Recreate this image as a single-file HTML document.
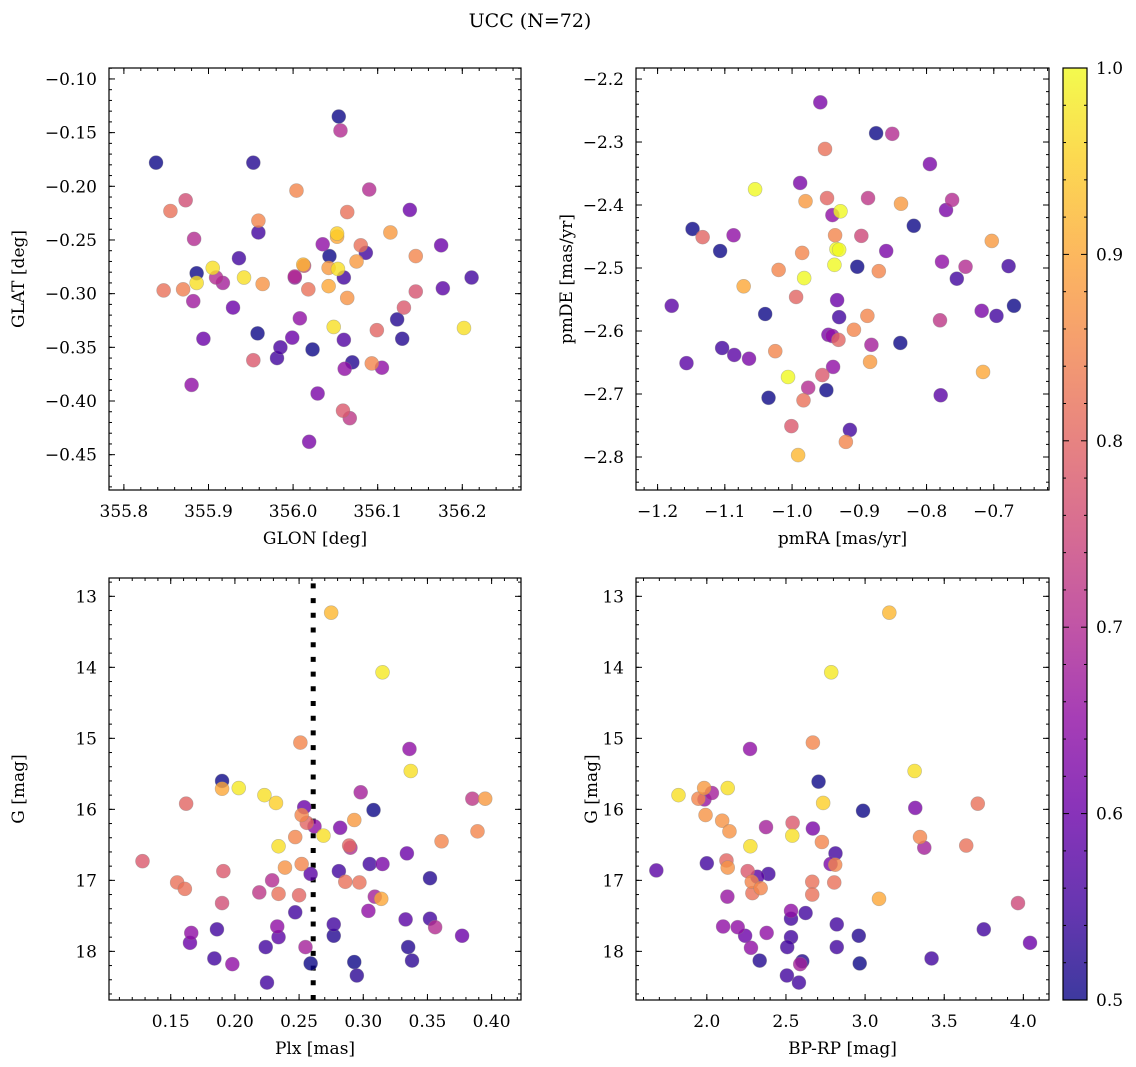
<!DOCTYPE html>
<html><head><meta charset="utf-8"><title>UCC (N=72)</title>
<style>
html,body{margin:0;padding:0;background:#fff;}
svg{display:block;font-family:"DejaVu Serif","Liberation Serif",serif;}
</style></head>
<body>
<svg id="fig" width="1136" height="1067" viewBox="0 0 1136 1067" xmlns="http://www.w3.org/2000/svg">
<defs>
<linearGradient id="plasma" x1="0" y1="1" x2="0" y2="0">
<stop offset="0" stop-color="#0d0887"/><stop offset="0.1" stop-color="#41049d"/><stop offset="0.2" stop-color="#6a00a8"/><stop offset="0.3" stop-color="#8f0da4"/><stop offset="0.4" stop-color="#b12a90"/><stop offset="0.5" stop-color="#cc4778"/><stop offset="0.6" stop-color="#e16462"/><stop offset="0.7" stop-color="#f2844b"/><stop offset="0.8" stop-color="#fca636"/><stop offset="0.9" stop-color="#fcce25"/><stop offset="1" stop-color="#f0f921"/>
</linearGradient>
</defs>
<text x="530" y="27" font-size="19" text-anchor="middle">UCC (N=72)</text>
</svg>
<script>
// ---------- data ----------
const p1Glon = [356.054,356.056,355.838,355.953,356.004,356.090,355.873,355.855,356.064,356.138,355.959,355.959,355.883,356.052,356.052,356.035,356.080,356.086,356.115,356.175,356.043,355.936,356.145,356.075,356.012,356.013,355.905,355.886,356.042,356.053,356.002,356.002,356.060,356.211,355.942,355.909,355.917,355.886,355.964,355.847,355.870,356.018,356.042,356.145,356.177,356.064,355.882,355.929,356.131,356.123,356.008,356.048,356.202,356.099,355.958,355.894,355.999,356.060,356.129,355.985,356.023,355.981,355.953,356.070,356.061,356.093,356.105,355.880,356.029,356.059,356.067,356.019];
const p1Glat = [-0.135,-0.148,-0.178,-0.178,-0.204,-0.203,-0.213,-0.223,-0.224,-0.222,-0.232,-0.243,-0.249,-0.244,-0.247,-0.254,-0.255,-0.262,-0.243,-0.255,-0.265,-0.267,-0.265,-0.270,-0.273,-0.274,-0.276,-0.281,-0.276,-0.277,-0.284,-0.285,-0.285,-0.285,-0.285,-0.285,-0.290,-0.290,-0.291,-0.297,-0.296,-0.296,-0.293,-0.298,-0.295,-0.304,-0.307,-0.313,-0.313,-0.324,-0.323,-0.331,-0.332,-0.334,-0.337,-0.342,-0.341,-0.343,-0.342,-0.350,-0.352,-0.360,-0.362,-0.364,-0.370,-0.365,-0.369,-0.385,-0.393,-0.409,-0.416,-0.438];
const p1Prob = [0.5,0.7,0.5,0.52,0.85,0.7,0.76,0.82,0.82,0.6,0.85,0.55,0.7,0.95,0.9,0.65,0.82,0.55,0.88,0.6,0.5,0.55,0.85,0.88,0.92,0.75,0.97,0.5,0.88,0.97,0.7,0.65,0.55,0.55,0.97,0.7,0.68,0.97,0.87,0.82,0.84,0.82,0.9,0.77,0.58,0.87,0.67,0.6,0.78,0.52,0.65,0.97,0.97,0.8,0.5,0.6,0.6,0.57,0.52,0.56,0.5,0.55,0.78,0.52,0.65,0.85,0.65,0.65,0.62,0.78,0.72,0.62];

const p2PmRA = [-0.958,-0.875,-0.851,-0.951,-0.795,-0.988,-1.055,-0.980,-0.948,-0.887,-0.838,-0.762,-0.771,-0.940,-0.928,-1.148,-1.133,-1.087,-1.107,-0.936,-0.897,-0.819,-0.703,-0.934,-0.930,-0.985,-0.860,-0.777,-0.742,-0.678,-0.903,-0.871,-1.020,-0.937,-0.982,-0.755,-1.072,-0.994,-0.933,-1.179,-1.040,-0.930,-0.888,-0.718,-0.696,-0.670,-0.780,-0.946,-0.940,-0.931,-0.908,-0.882,-0.839,-1.104,-1.086,-1.064,-1.025,-1.157,-0.884,-0.939,-0.955,-1.006,-0.716,-0.976,-0.949,-1.035,-0.983,-0.779,-1.001,-0.914,-0.920,-0.991];
const p2PmDE = [-2.237,-2.286,-2.287,-2.311,-2.335,-2.365,-2.375,-2.394,-2.389,-2.389,-2.398,-2.392,-2.408,-2.416,-2.410,-2.438,-2.451,-2.448,-2.473,-2.448,-2.449,-2.433,-2.457,-2.470,-2.471,-2.476,-2.473,-2.490,-2.498,-2.497,-2.498,-2.505,-2.503,-2.495,-2.516,-2.517,-2.529,-2.546,-2.551,-2.560,-2.573,-2.578,-2.576,-2.568,-2.576,-2.560,-2.583,-2.606,-2.608,-2.614,-2.598,-2.622,-2.619,-2.627,-2.638,-2.644,-2.632,-2.651,-2.649,-2.657,-2.670,-2.673,-2.665,-2.690,-2.694,-2.706,-2.710,-2.702,-2.751,-2.757,-2.776,-2.797];
const p2Prob = [0.62,0.5,0.7,0.82,0.62,0.62,1.0,0.88,0.8,0.72,0.88,0.7,0.62,0.65,1.0,0.5,0.8,0.65,0.5,0.85,0.75,0.5,0.88,1.0,1.0,0.85,0.62,0.65,0.7,0.55,0.5,0.85,0.85,1.0,1.0,0.55,0.9,0.8,0.6,0.58,0.5,0.55,0.85,0.62,0.55,0.5,0.72,0.62,0.65,0.8,0.85,0.68,0.5,0.55,0.58,0.62,0.85,0.58,0.88,0.65,0.78,1.0,0.9,0.7,0.5,0.5,0.82,0.58,0.78,0.55,0.85,0.92];

const p3Plx = [0.275,0.315,0.251,0.336,0.337,0.190,0.190,0.203,0.223,0.232,0.298,0.162,0.385,0.395,0.254,0.308,0.252,0.256,0.262,0.282,0.293,0.269,0.247,0.389,0.361,0.234,0.289,0.290,0.334,0.128,0.191,0.239,0.252,0.259,0.281,0.305,0.315,0.352,0.155,0.161,0.229,0.286,0.297,0.219,0.234,0.250,0.309,0.314,0.190,0.304,0.247,0.333,0.352,0.356,0.233,0.277,0.166,0.186,0.234,0.277,0.377,0.165,0.224,0.255,0.335,0.184,0.198,0.259,0.293,0.338,0.295,0.225];
const p3G = [13.23,14.07,15.06,15.15,15.46,15.60,15.71,15.70,15.80,15.91,15.76,15.92,15.85,15.85,15.97,16.01,16.08,16.19,16.24,16.26,16.15,16.37,16.39,16.31,16.45,16.52,16.51,16.54,16.62,16.73,16.87,16.82,16.77,16.91,16.87,16.77,16.77,16.97,17.03,17.12,17.00,17.02,17.03,17.17,17.19,17.21,17.23,17.26,17.32,17.43,17.45,17.55,17.54,17.66,17.65,17.62,17.74,17.69,17.80,17.78,17.78,17.88,17.94,17.94,17.94,18.10,18.18,18.17,18.15,18.13,18.34,18.44];
const p3Prob = [0.92,0.98,0.85,0.65,0.97,0.5,0.9,0.98,0.97,0.95,0.68,0.8,0.72,0.88,0.6,0.5,0.85,0.8,0.65,0.62,0.88,0.97,0.85,0.85,0.85,0.97,0.8,0.7,0.6,0.78,0.78,0.87,0.85,0.58,0.55,0.55,0.62,0.52,0.82,0.82,0.7,0.82,0.82,0.72,0.82,0.8,0.68,0.9,0.76,0.65,0.55,0.58,0.55,0.7,0.65,0.55,0.65,0.55,0.58,0.52,0.6,0.6,0.55,0.68,0.52,0.55,0.65,0.5,0.5,0.53,0.53,0.55];
const plxLine = 0.261;

const p4BpRp = [3.153,2.786,2.670,2.273,3.313,2.706,1.821,1.983,2.032,2.132,1.947,1.985,2.735,2.987,3.317,3.712,1.992,2.097,2.143,2.374,2.542,2.670,2.540,2.727,2.275,2.813,3.347,3.374,3.639,1.681,2.000,2.124,2.132,2.782,2.811,2.258,2.389,2.319,2.284,2.340,2.288,2.666,2.805,2.666,2.130,3.088,3.966,2.532,2.624,2.532,2.103,2.195,2.242,2.378,2.821,2.960,3.750,4.042,2.279,2.532,2.508,2.821,2.334,2.603,2.590,2.966,3.420,2.506,2.582];
const p4G = [13.23,14.07,15.06,15.15,15.46,15.61,15.80,15.70,15.77,15.70,15.85,15.86,15.91,16.02,15.98,15.92,16.08,16.16,16.31,16.25,16.19,16.27,16.37,16.46,16.52,16.62,16.39,16.54,16.51,16.86,16.76,16.72,16.82,16.77,16.78,16.87,16.91,16.95,17.02,17.11,17.18,17.02,17.03,17.20,17.23,17.26,17.32,17.43,17.46,17.54,17.65,17.66,17.78,17.74,17.62,17.78,17.69,17.88,17.95,17.80,17.94,17.94,18.13,18.14,18.18,18.17,18.10,18.34,18.44];
const p4Prob = [0.92,0.98,0.85,0.65,0.97,0.5,0.97,0.88,0.68,0.97,0.85,0.66,0.95,0.5,0.62,0.82,0.87,0.87,0.87,0.68,0.78,0.62,0.97,0.85,0.97,0.55,0.85,0.68,0.82,0.58,0.55,0.8,0.87,0.62,0.85,0.78,0.55,0.58,0.85,0.85,0.82,0.82,0.82,0.82,0.66,0.9,0.75,0.65,0.55,0.55,0.65,0.65,0.6,0.65,0.55,0.52,0.55,0.6,0.65,0.55,0.55,0.55,0.52,0.52,0.68,0.5,0.55,0.55,0.55];

const cbTicks = [0.5,0.6,0.7,0.8,0.9,1.0];

// ---------- helpers ----------
const NS = "http://www.w3.org/2000/svg";
const svg = document.getElementById('fig');
function mk(tag, attrs, parent){ const e=document.createElementNS(NS,tag); for(const k in attrs) e.setAttribute(k,attrs[k]); (parent||svg).appendChild(e); return e; }
const stops=[[13,8,135],[65,4,157],[106,0,168],[143,13,164],[177,42,144],[204,71,120],[225,100,98],[242,132,75],[252,166,54],[252,206,37],[240,249,33]];
function cmap(v){ let t=(v-0.5)/0.5; t=Math.max(0,Math.min(1,t)); const f=t*10; const i=Math.min(9,Math.floor(f)); const r=f-i; const a=stops[i],b=stops[i+1]; return 'rgb('+[0,1,2].map(k=>Math.round(a[k]+(b[k]-a[k])*r)).join(',')+')'; }
function fmt(v,d){ return v.toFixed(d).replace('-','\u2212'); }

function panel(cfg){
  const g = mk('g',{});
  
  
  const {x0,y0,w,h,xmin,xmax,ymin,ymax,invertY}=cfg;
  const sx=v=>x0+(v-xmin)/(xmax-xmin)*w;
  const sy=v=> invertY ? y0+(v-ymin)/(ymax-ymin)*h : y0+h-(v-ymin)/(ymax-ymin)*h;
  const eps=1e-9;
  function ticks(lo,hi,step){ const a=[]; let s=Math.ceil((lo-eps)/step); for(let k=s;k*step<=hi+eps;k++) a.push(+(k*step).toFixed(6)); return a; }
  const tg=mk('g',{stroke:'#000','stroke-width':1},g);
  
  
  ticks(xmin,xmax,cfg.xminor).forEach(v=>{ const x=sx(v); mk('line',{x1:x,x2:x,y1:y0+h,y2:y0+h-3},tg); mk('line',{x1:x,x2:x,y1:y0,y2:y0+3},tg); });
  ticks(ymin,ymax,cfg.yminor).forEach(v=>{ const y=sy(v); mk('line',{x1:x0,x2:x0+3,y1:y,y2:y},tg); mk('line',{x1:x0+w,x2:x0+w-3,y1:y,y2:y},tg); });
  ticks(xmin,xmax,cfg.xmajor).forEach(v=>{ const x=sx(v);
    mk('line',{x1:x,x2:x,y1:y0+h,y2:y0+h-6},tg); mk('line',{x1:x,x2:x,y1:y0,y2:y0+6},tg);
    const t=mk('text',{x:x,y:y0+h+27,'font-size':17,'text-anchor':'middle'},g); t.textContent=fmt(v,cfg.xdec);
    
    
  });
  ticks(ymin,ymax,cfg.ymajor).forEach(v=>{ const y=sy(v);
    mk('line',{x1:x0,x2:x0+6,y1:y,y2:y},tg); mk('line',{x1:x0+w,x2:x0+w-6,y1:y,y2:y},tg);
    const t=mk('text',{x:x0-12,y:y+6,'font-size':17,'text-anchor':'end'},g); t.textContent=fmt(v,cfg.ydec);
    
    
  });
  const cid='clip-'+cfg.name;
  const cp=mk('clipPath',{id:cid},g); mk('rect',{x:x0,y:y0,width:w,height:h},cp);
  const pg=mk('g',{'clip-path':'url(#'+cid+')'},g);
  
  
  if(cfg.vline!==undefined){
    const x=sx(cfg.vline);
    const l=mk('line',{x1:x,x2:x,y1:y0+h,y2:y0,stroke:'#000','stroke-width':5,'stroke-dasharray':'5 9.7'},pg);
    
    
  }
  const order=cfg.xs.map((_,i)=>i).sort((a,b)=>cfg.cs[a]-cfg.cs[b]);
  order.forEach(i=>{
    const c=mk('circle',{cx:sx(cfg.xs[i]),cy:sy(cfg.ys[i]),r:7,fill:cmap(cfg.cs[i]),'fill-opacity':0.8,stroke:'#888','stroke-opacity':0.5,'stroke-width':0.6},pg);
    
    
  });
  const fr=mk('rect',{x:x0,y:y0,width:w,height:h,fill:'none',stroke:'#000','stroke-width':1.2},g);
  
  
  const xl=mk('text',{x:x0+w/2,y:y0+h+54,'font-size':17,'text-anchor':'middle'},g); xl.textContent=cfg.xlabel;
  
  
  const yx=cfg.ylx, yy=y0+h/2;
  const yl=mk('text',{x:yx,y:yy,'font-size':17,'text-anchor':'middle',transform:'rotate(-90 '+yx+' '+yy+')'},g); yl.textContent=cfg.ylabel;
  
  
}

panel({name:'glon-glat-panel',x0:109,y0:68,w:412,h:422,xmin:355.7824,xmax:356.2694,ymin:-0.4829,ymax:-0.0898,xmajor:0.1,xminor:0.02,ymajor:0.05,yminor:0.01,xdec:1,ydec:2,xs:p1Glon,ys:p1Glat,cs:p1Prob,xlabel:'GLON [deg]',ylabel:'GLAT [deg]',ylx:24});
panel({name:'pm-panel',x0:636,y0:68,w:413,h:422,xmin:-1.2321,xmax:-0.6179,ymin:-2.8524,ymax:-2.1825,xmajor:0.1,xminor:0.02,ymajor:0.1,yminor:0.02,xdec:1,ydec:1,xs:p2PmRA,ys:p2PmDE,cs:p2Prob,xlabel:'pmRA [mas/yr]',ylabel:'pmDE [mas/yr]',ylx:572});
panel({name:'plx-g-panel',x0:109,y0:578,w:412,h:422,xmin:0.1019,xmax:0.4229,ymin:12.742,ymax:18.685,invertY:true,xmajor:0.05,xminor:0.01,ymajor:1,yminor:0.2,xdec:2,ydec:0,xs:p3Plx,ys:p3G,cs:p3Prob,xlabel:'Plx [mas]',ylabel:'G [mag]',ylx:24,vline:plxLine});
panel({name:'cmd-panel',x0:636,y0:578,w:413,h:422,xmin:1.5525,xmax:4.162,ymin:12.742,ymax:18.685,invertY:true,xmajor:0.5,xminor:0.1,ymajor:1,yminor:0.2,xdec:1,ydec:0,xs:p4BpRp,ys:p4G,cs:p4Prob,xlabel:'BP-RP [mag]',ylabel:'G [mag]',ylx:597});

// colorbar
(function(){
  const x0=1063,y0=68,w=24,h=932;
  const g=mk('g',{});
  
  
  const r=mk('rect',{x:x0,y:y0,width:w,height:h,fill:'url(#plasma)','fill-opacity':0.8},g);
  
  
  mk('rect',{x:x0,y:y0,width:w,height:h,fill:'none',stroke:'#000','stroke-width':1.2},g);
  const sy=v=>y0+h-(v-0.5)/0.5*h;
  for(let k=50;k<=100;k+=2){ const y=sy(k/100); const L=(k%10===0)?6:3;
    mk('line',{x1:x0,x2:x0+L,y1:y,y2:y,stroke:'#000'},g); mk('line',{x1:x0+w,x2:x0+w-L,y1:y,y2:y,stroke:'#000'},g); }
  cbTicks.forEach(v=>{ const t=mk('text',{x:x0+w+9,y:sy(v)+6,'font-size':17},g); t.textContent=v.toFixed(1);
    
    
  });
})();
</script>
</body></html>
